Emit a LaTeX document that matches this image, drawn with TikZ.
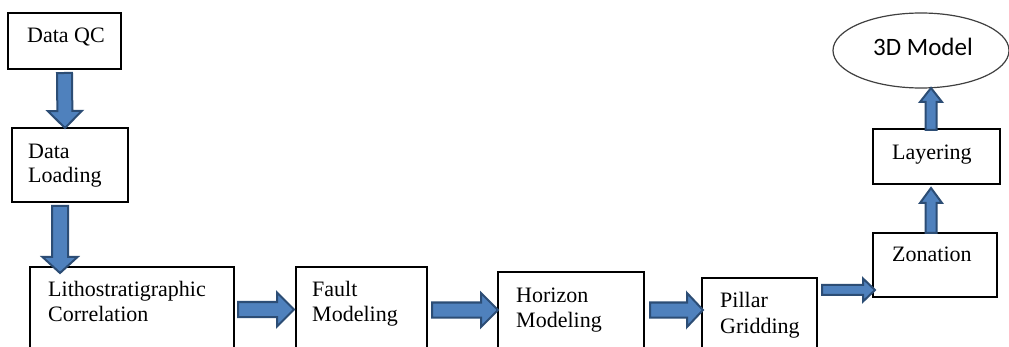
\documentclass[tikz,border=0pt]{standalone}
\usepackage{fontspec}
\setmainfont{Liberation Serif}
\newfontfamily\calibrifont{Carlito}
\usetikzlibrary{calc,shapes.geometric}
\definecolor{arrowfill}{HTML}{4F81BD}
\definecolor{arrowline}{HTML}{2C4D75}
\tikzset{
  box/.style={draw=black, line width=1.5pt, inner sep=0pt, outer sep=0pt, anchor=north west},
  lbl/.style={anchor=base west, inner sep=0pt, font=\fontsize{22}{25}\selectfont},
  barrow/.style={fill=arrowfill, draw=arrowline, line width=2pt, line join=miter},
}
% tail, tip, half shaft, half head, head length
\newcommand{\blockarrow}[5]{%
  \path (#1) coordinate (ba-s) (#2) coordinate (ba-t);
  \path ($(ba-t)!#5!(ba-s)$) coordinate (ba-b);
  \draw[barrow] ($(ba-s)!#3!90:(ba-t)$) -- ($(ba-b)!#3!90:(ba-t)$) -- ($(ba-b)!#4!90:(ba-t)$)
    -- (ba-t) -- ($(ba-b)!#4!-90:(ba-t)$) -- ($(ba-b)!#3!-90:(ba-t)$) -- ($(ba-s)!#3!-90:(ba-t)$) -- cycle;
}
\begin{document}
\begin{tikzpicture}[x=1pt,y=-1pt]
\useasboundingbox (0,0) rectangle (1009,347);
\clip (0,0) rectangle (1009,347);
\fill[white] (0,0) rectangle (1009,347);

% boxes
\node[box, minimum width=113pt, minimum height=56pt] (dqc) at (8,13) {};
\node[box, minimum width=116pt, minimum height=74pt] (dl) at (12,128) {};
\node[box, minimum width=204pt, minimum height=100pt] (litho) at (30,267) {};
\node[box, minimum width=131pt, minimum height=100pt] (fault) at (296,267) {};
\node[box, minimum width=146pt, minimum height=100pt] (horizon) at (498,272) {};
\node[box, minimum width=115pt, minimum height=100pt] (pillar) at (702,278) {};
\node[box, minimum width=124pt, minimum height=64pt] (zon) at (873,233) {};
\node[box, minimum width=127pt, minimum height=55pt] (lay) at (873,129) {};
\node[ellipse, draw=black!75, line width=1.2pt, inner sep=0pt, outer sep=0pt, minimum width=176pt, minimum height=75pt] (model) at (921,50.5) {};

% labels
\node[lbl] (t-dqc) at (27,43) {Data QC};
\node[lbl] (t-dl1) at (28,159) {Data};
\node[lbl] (t-dl2) at (28,183) {Loading};
\node[lbl] (t-li1) at (48,297) {Lithostratigraphic};
\node[lbl] (t-li2) at (48,321) {Correlation};
\node[lbl] (t-fa1) at (312,297) {Fault};
\node[lbl] (t-fa2) at (312,321) {Modeling};
\node[lbl] (t-ho1) at (516,302) {Horizon};
\node[lbl] (t-ho2) at (516,327) {Modeling};
\node[lbl] (t-pi1) at (720,308) {Pillar};
\node[lbl] (t-pi2) at (720,333) {Gridding};
\node[lbl] (t-zo) at (892,262) {Zonation};
\node[lbl] (t-la) at (892,160) {Layering};
\node[anchor=base, inner sep=0pt, font=\calibrifont\fontsize{25}{28}\selectfont] (t-mo) at (923,56) {3D Model};

% arrows
\blockarrow{$(dqc.south)+(0,4)$}{$(dl.north west)+(53,0)$}{7.5pt}{17pt}{17pt}
\blockarrow{$(dl.south west)+(48,4)$}{$(litho.north west)+(30,6)$}{8pt}{17.5pt}{16pt}
\blockarrow{$(litho.north east)+(4,42.5)$}{$(fault.north west)+(-2,42.5)$}{7.5pt}{17pt}{17pt}
\blockarrow{$(fault.north east)+(5,43)$}{$(horizon.north west)+(0,38)$}{7.5pt}{17pt}{17pt}
\blockarrow{$(horizon.north east)+(6,38)$}{$(pillar.north west)+(1,32)$}{7.5pt}{17pt}{16pt}
\blockarrow{$(pillar.north east)+(5,12)$}{$(zon.north west)+(2,57)$}{5pt}{11.5pt}{12pt}
\blockarrow{$(zon.north west)+(58,0)$}{$(lay.south west)+(58,4)$}{5.5pt}{11pt}{15pt}
\blockarrow{$(lay.north west)+(58,1)$}{$(model.south)+(10,0)$}{5.5pt}{11pt}{14pt}
\end{tikzpicture}
\end{document}
